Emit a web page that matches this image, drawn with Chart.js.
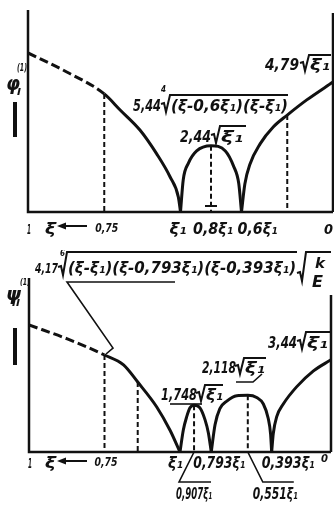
<!DOCTYPE html>
<html>
<head>
<meta charset="utf-8">
<script src="https://cdn.jsdelivr.net/npm/chart.js@4.4.0/dist/chart.umd.min.js"></script>
<style>
  html, body { margin: 0; padding: 0; background: #fff; }
  #wrap { position: relative; width: 334px; height: 506px; overflow: hidden; background: #fff; }
  canvas { position: absolute; left: 0; }
  #top { top: 0; }
  #bot { top: 250px; }
</style>
</head>
<body>
<div id="wrap">
  <canvas id="top" width="334" height="250"></canvas>
  <canvas id="bot" width="334" height="256"></canvas>
</div>
<script>
// xi runs from 1 (left) down to 0 (right); heights are in units of sqrt(xi1), xi1 = 0.5
const xiTop = [1, 0.873, 0.75, 0.698, 0.633, 0.578, 0.534, 0.507, 0.5,
  0.491, 0.474, 0.447, 0.4, 0.353, 0.326, 0.309, 0.3,
  0.289, 0.272, 0.239, 0.196, 0.15, 0.086, 0];
const phiTop = [5.86, 5.16, 4.35, 3.76, 3.02, 2.14, 1.29, 0.55, 0,
  1.19, 1.8, 2.25, 2.44, 2.25, 1.69, 1.05, 0,
  1.03, 1.77, 2.51, 3.13, 3.57, 4.13, 4.79];

const xiBot = [1, 0.873, 0.75, 0.687, 0.64, 0.577, 0.533, 0.5,
  0.489, 0.478, 0.467, 0.4535, 0.434, 0.417, 0.406, 0.3965,
  0.384, 0.368, 0.345, 0.312, 0.2755, 0.246, 0.224, 0.208, 0.2, 0.1965,
  0.191, 0.18, 0.158, 0.114, 0.059, 0];
const psiBot = [4.74, 4.22, 3.62, 3.25, 2.61, 1.68, 0.81, 0,
  0.82, 1.31, 1.65, 1.748, 1.65, 1.2, 0.71, 0,
  1.02, 1.62, 1.9, 2.1, 2.118, 2.035, 1.79, 1.26, 0.67, 0,
  0.7, 1.31, 1.79, 2.43, 3.02, 3.44];

// dashed verticals dropped from the curve
const guidesTop = [0.75, 0.4, 0.15];
const guidesBot = [0.75, 0.64, 0.4535, 0.2755];

// axis labels under each panel
const ticksTop = [1, 0.75, 0.5, 0.4, 0.3, 0];
const tickTextTop = ['1', '0,75', 'ξ₁', '0,8ξ₁', '0,6ξ₁', '0'];
const ticksBot = [1, 0.75, 0.5, 0.3965, 0.1965, 0];
const tickTextBot = ['1', '0,75', 'ξ₁', '0,793ξ₁', '0,393ξ₁', '0'];
const ticksBot2 = [0.4535, 0.2755];
const tickTextBot2 = ['0,907ξ₁', '0,551ξ₁'];

const INK = '#111';
const FACE = "'DejaVu Sans Condensed', 'DejaVu Sans', sans-serif";

function font(size) {
  return 'italic bold ' + size + 'px ' + FACE;
}

// text squeezed (or stretched) to a given width, left edge at x
function fitText(ctx, s, x, y, w, size) {
  ctx.font = font(size);
  const m = ctx.measureText(s).width;
  ctx.save();
  ctx.translate(x, y);
  ctx.scale(w ? w / m : 1, 1);
  ctx.textAlign = 'left';
  ctx.textBaseline = 'alphabetic';
  ctx.fillStyle = INK;
  ctx.fillText(s, 0, 0);
  ctx.restore();
}

function poly(ctx, pts, width, dash) {
  ctx.save();
  ctx.strokeStyle = INK;
  ctx.lineWidth = width;
  ctx.lineJoin = 'miter';
  ctx.setLineDash(dash || []);
  ctx.beginPath();
  ctx.moveTo(pts[0][0], pts[0][1]);
  for (let i = 1; i < pts.length; i++) ctx.lineTo(pts[i][0], pts[i][1]);
  ctx.stroke();
  ctx.restore();
}

// radical sign: starts at x, bottom at base, bar at top y running to endX
function radical(ctx, x, base, top, endX) {
  poly(ctx, [[x, base - 7], [x + 3, base - 8], [x + 5, base + 1], [x + 9, top], [endX, top]], 2);
}

function branches(xs, ys) {
  const out = [];
  let cur = [];
  xs.forEach((x, i) => {
    cur.push({x: x, y: ys[i]});
    if (ys[i] === 0 && i > 0 && i < xs.length - 1) {
      out.push(cur);
      cur = [{x: x, y: 0}];
    }
  });
  out.push(cur);
  return out;
}

function makeDatasets(xs, ys) {
  return branches(xs, ys).map(pts => ({
    data: pts,
    borderColor: INK,
    borderWidth: 3,
    pointRadius: 0,
    fill: false,
    cubicInterpolationMode: 'monotone',
    segment: {
      borderDash: c => c.p0.parsed.x > 0.751 ? [9, 4] : undefined
    }
  }));
}

function valueAt(xs, ys, v) {
  return ys[xs.indexOf(v)];
}

// frame: left axis, base line and the right edge
const framePlugin = {
  id: 'frame',
  beforeDatasetsDraw(chart, args, opts) {
    const a = chart.chartArea;
    const ctx = chart.ctx;
    poly(ctx, [[a.left, a.top], [a.left, a.bottom], [a.right, a.bottom]], 2.5);
    poly(ctx, [[a.right, a.top + opts.rightGap], [a.right, a.bottom]], 2.5);
    const x = chart.scales.x, y = chart.scales.y;
    opts.guides.forEach(v => {
      const px = x.getPixelForValue(v);
      const py = y.getPixelForValue(valueAt(opts.xs, opts.ys, v));
      poly(ctx, [[px, py], [px, a.bottom]], 2, [5, 3]);
    });
  }
};

function baseOptions(pad, ymax, frame) {
  return {
    responsive: false,
    animation: false,
    layout: { padding: pad },
    scales: {
      x: { type: 'linear', min: 0, max: 1, reverse: true, display: false },
      y: { min: 0, max: ymax, display: false }
    },
    plugins: {
      legend: { display: false },
      tooltip: { enabled: false },
      frame: frame
    }
  };
}

function tickRow(chart, vals, texts, base, spec) {
  const x = chart.scales.x;
  vals.forEach((v, i) => {
    const s = spec[i];
    const px = x.getPixelForValue(v);
    fitText(chart.ctx, texts[i], px + s[0], base + (s[3] || 0), s[1], s[2]);
  });
}

function arrowXi(ctx, base, lineY) {
  fitText(ctx, 'ξ', 45, base, 11, 16);
  poly(ctx, [[64, lineY], [87, lineY]], 2);
  ctx.save();
  ctx.fillStyle = INK;
  ctx.beginPath();
  ctx.moveTo(57, lineY);
  ctx.lineTo(66, lineY - 3.5);
  ctx.lineTo(66, lineY + 3.5);
  ctx.closePath();
  ctx.fill();
  ctx.restore();
}

// upper panel
new Chart(document.getElementById('top'), {
  type: 'line',
  data: { datasets: makeDatasets(xiTop, phiTop) },
  options: baseOptions({left: 28, right: 1, top: 10, bottom: 38}, 202 / 27.14,
    {xs: xiTop, ys: phiTop, guides: guidesTop, rightGap: 3}),
  plugins: [framePlugin, {
    id: 'textTop',
    afterDraw(chart) {
      const ctx = chart.ctx;
      const x = chart.scales.x, a = chart.chartArea;
      // small cross mark on the middle guide
      const pm = x.getPixelForValue(0.4);
      poly(ctx, [[pm - 6, a.bottom - 6], [pm + 6, a.bottom - 6]], 2);

      // [offset from tick, width, size]
      tickRow(chart, ticksTop, tickTextTop, 234,
        [[-1, 4, 14], [-9, 23, 12, -2], [-11, 17, 16], [-18, 40, 15], [-4, 40, 15], [-9, 9, 14]]);
      arrowXi(ctx, 234, 226);

      // ordinate name
      fitText(ctx, 'φ', 6, 90, 14, 20);
      fitText(ctx, '(1)', 17, 71, 10, 10);
      fitText(ctx, 'I', 17, 95, 4, 9);
      poly(ctx, [[15, 102], [15, 137]], 4);

      // value labels
      fitText(ctx, '4,79', 265, 70, 34, 16);
      radical(ctx, 300, 70, 55, 331);
      fitText(ctx, 'ξ₁', 310, 70, 20, 16);

      fitText(ctx, '5,44', 133, 111, 28, 15);
      fitText(ctx, '4', 161, 92, 5, 9);
      radical(ctx, 161, 111, 95, 288);
      fitText(ctx, '(ξ-0,6ξ₁)(ξ-ξ₁)', 171, 111, 117, 15);

      fitText(ctx, '2,44', 180, 142, 31, 15);
      radical(ctx, 211, 142, 126, 246);
      fitText(ctx, 'ξ₁', 221, 142, 22, 15);
    }
  }]
});

// lower panel
new Chart(document.getElementById('bot'), {
  type: 'line',
  data: { datasets: makeDatasets(xiBot, psiBot) },
  options: baseOptions({left: 29, right: 3, top: 28, bottom: 54}, 174 / 26.8,
    {xs: xiBot, ys: psiBot, guides: guidesBot, rightGap: 17}),
  plugins: [framePlugin, {
    id: 'textBot',
    afterDraw(chart) {
      const ctx = chart.ctx;
      const x = chart.scales.x, a = chart.chartArea;

      tickRow(chart, ticksBot, tickTextBot, 218,
        [[-1, 4, 14], [-10, 23, 12, -2], [-12, 15, 16], [-18, 52, 15], [-10, 53, 15], [-10, 7, 11, -6]]);
      arrowXi(ctx, 218, 211);
      tickRow(chart, ticksBot2, tickTextBot2, 249, [[-18, 36, 15], [5, 45, 15]]);

      // leaders from the peaks to the second row of labels
      const p1 = x.getPixelForValue(ticksBot2[0]);
      const p2 = x.getPixelForValue(ticksBot2[1]);
      poly(ctx, [[p1, a.bottom], [p1 - 15, a.bottom + 30], [p1 + 17, a.bottom + 30]], 1.6);
      poly(ctx, [[p2, a.bottom], [p2 + 15, a.bottom + 30], [p2 + 46, a.bottom + 30]], 1.6);

      // ordinate name
      fitText(ctx, 'ψ', 6, 50, 15, 18);
      fitText(ctx, '(1)', 20, 35, 10, 9);
      fitText(ctx, 'II', 12, 56, 8, 9);
      poly(ctx, [[15, 78], [15, 115]], 4);

      // formula of the dashed part with its leader
      fitText(ctx, '4,17', 35, 23, 23, 14);
      fitText(ctx, '6', 60, 6, 5, 9);
      radical(ctx, 58, 24, 2, 297);
      fitText(ctx, '(ξ-ξ₁)(ξ-0,793ξ₁)(ξ-0,393ξ₁)', 68, 23, 228, 15);
      radical(ctx, 297, 30, 2, 331);
      fitText(ctx, 'k', 315, 18, 10, 14);
      fitText(ctx, 'E', 312, 37, 11, 15);
      poly(ctx, [[175, 32], [67, 32], [113, 98], [106, 104]], 1.6);

      // value labels
      fitText(ctx, '3,44', 268, 98, 29, 15);
      radical(ctx, 297, 98, 82, 331);
      fitText(ctx, 'ξ₁', 307, 98, 21, 15);

      fitText(ctx, '2,118', 202, 123, 34, 15);
      radical(ctx, 235, 123, 108, 266);
      fitText(ctx, 'ξ₁', 245, 123, 20, 15);
      poly(ctx, [[236, 132], [253, 132], [262, 124]], 1.6);

      fitText(ctx, '1,748', 161, 150, 36, 15);
      radical(ctx, 196, 150, 135, 223);
      fitText(ctx, 'ξ₁', 206, 150, 17, 15);
      poly(ctx, [[170, 154], [202, 154]], 1.6);
    }
  }]
});
</script>
</body>
</html>
